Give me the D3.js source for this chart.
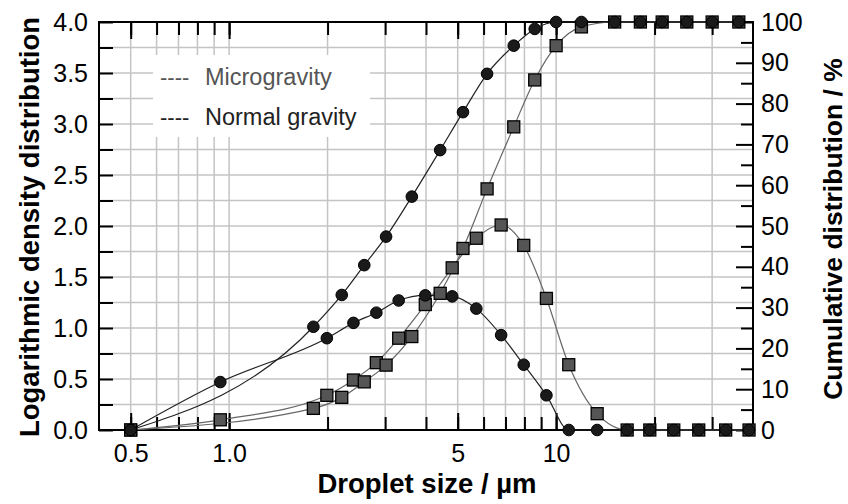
<!DOCTYPE html>
<html>
<head>
<meta charset="utf-8">
<script src="https://cdn.jsdelivr.net/npm/d3@7"></script>
<style>
  body { margin: 0; background: #fff; }
  svg text { font-family: "Liberation Sans", Arial, sans-serif; fill: #000; }
</style>
</head>
<body>
<div id="chart"></div>
<script>
// droplet sizes (µm) where the density was given (bin centres)
const densitySize = [0.5, 0.94, 1.99, 2.40, 2.82, 3.30, 3.98, 4.81, 5.70, 6.79, 7.96, 9.34, 10.93, 13.35, 16.49, 19.34, 22.9, 27.3, 33.0, 38.9];
const densityNormal = [0, 0.47, 0.90, 1.05, 1.15, 1.27, 1.32, 1.31, 1.19, 0.93, 0.64, 0.34, 0, 0, 0, 0, 0, 0, 0, 0];
const densityMicro = [0, 0.10, 0.34, 0.49, 0.66, 0.90, 1.23, 1.59, 1.88, 2.01, 1.81, 1.29, 0.64, 0.16, 0, 0, 0, 0, 0, 0];

// droplet sizes (µm) for the cumulative curves (upper bin edges)
const cumulSize = [0.5, 1.81, 2.21, 2.59, 3.02, 3.62, 4.42, 5.19, 6.15, 7.42, 8.60, 10.0, 11.95, 15.1, 18.1, 21.1, 25.1, 30.0, 36.2];
const cumulNormal = [0, 25.3, 33.1, 40.4, 47.4, 57.2, 68.6, 77.9, 87.3, 94.2, 98.3, 100, 100, 100, 100, 100, 100, 100, 100];
const cumulMicro = [0, 5.3, 8.0, 11.8, 15.9, 22.9, 33.5, 44.5, 59.1, 74.3, 85.8, 94.2, 98.8, 100, 100, 100, 100, 100, 100];

// axis ticks
const xLabelTicks = [0.5, 1.0, 5, 10];
const xLabelText = ["0.5", "1.0", "5", "10"];
const xMinorTicks = [0.5, 0.6, 0.7, 0.8, 0.9, 1, 2, 3, 4, 5, 6, 7, 8, 9, 10, 20, 30];
const yLeftTicks = [0, 0.5, 1.0, 1.5, 2.0, 2.5, 3.0, 3.5, 4.0];
const yLeftMinor = [0.25, 0.75, 1.25, 1.75, 2.25, 2.75, 3.25, 3.75];
const yRightTicks = [0, 10, 20, 30, 40, 50, 60, 70, 80, 90, 100];
const yRightMinor = [5, 15, 25, 35, 45, 55, 65, 75, 85, 95];

const legendItems = ["Microgravity", "Normal gravity"];

const W = 848, H = 504;
const m = { left: 99, right: 753, top: 22, bottom: 430 };

const svg = d3.select("#chart").append("svg")
    .attr("width", W)
    .attr("height", H);

const x = d3.scaleLog().domain([0.4, 40]).range([m.left, m.right]);
const y = d3.scaleLinear().domain([0, 4]).range([m.bottom, m.top]);
const yR = d3.scaleLinear().domain([0, 100]).range([m.bottom, m.top]);

// grid
const grid = svg.append("g").attr("stroke", "#c4c4c4").attr("stroke-width", 1.5);
grid.selectAll(".gx").data(xMinorTicks).join("line")
    .attr("x1", d => x(d)).attr("x2", d => x(d))
    .attr("y1", m.top).attr("y2", m.bottom);
grid.selectAll(".gy").data(yLeftTicks.concat(yLeftMinor)).join("line")
    .attr("x1", m.left).attr("x2", m.right)
    .attr("y1", d => y(d)).attr("y2", d => y(d));

// legend box (white, covers the grid)
const legend = svg.append("g");
legend.append("rect")
    .attr("x", 153).attr("y", 55).attr("width", 217).attr("height", 82)
    .attr("fill", "#fff");
legend.selectAll("text.dash").data(legendItems).join("text")
    .attr("class", "dash")
    .attr("x", 160).attr("y", (d, i) => 85 + i * 39.5)
    .style("font-size", "22px")
    .style("fill", (d, i) => i === 0 ? "#555" : "#222")
    .text("----");
legend.selectAll("text.lab").data(legendItems).join("text")
    .attr("class", "lab")
    .attr("x", 205).attr("y", (d, i) => 85 + i * 39.5)
    .style("font-size", "23.5px")
    .style("fill", (d, i) => i === 0 ? "#555" : "#222")
    .text(d => d);

// axes: ticks pointing inwards
function styleAxis(g) {
    g.select(".domain").remove();
    g.selectAll(".tick line").attr("stroke", "#000").attr("stroke-width", 2);
    g.selectAll(".tick text").style("font-size", "25px");
}

svg.append("g").attr("transform", `translate(0,${m.bottom})`)
    .call(d3.axisBottom(x).tickValues(xMinorTicks).tickSize(-13).tickFormat(""))
    .call(styleAxis);
svg.append("g").attr("transform", `translate(0,${m.bottom})`)
    .call(d3.axisBottom(x).tickValues(xLabelTicks).tickSize(-17).tickPadding(14)
        .tickFormat((d, i) => xLabelText[i]))
    .call(styleAxis);
svg.append("g").attr("transform", `translate(0,${m.top})`)
    .call(d3.axisTop(x).tickValues(xMinorTicks).tickSize(-13).tickFormat(""))
    .call(styleAxis);
svg.append("g").attr("transform", `translate(0,${m.top})`)
    .call(d3.axisTop(x).tickValues(xLabelTicks).tickSize(-17).tickFormat(""))
    .call(styleAxis);

svg.append("g").attr("transform", `translate(${m.left},0)`)
    .call(d3.axisLeft(y).tickValues(yLeftTicks).tickSize(-14).tickPadding(11)
        .tickFormat(d3.format(".1f")))
    .call(styleAxis);
svg.append("g").attr("transform", `translate(${m.left},0)`)
    .call(d3.axisLeft(y).tickValues(yLeftMinor).tickSize(-14).tickFormat(""))
    .call(styleAxis);

svg.append("g").attr("transform", `translate(${m.right},0)`)
    .call(d3.axisRight(yR).tickValues(yRightTicks).tickSize(-17).tickPadding(8))
    .call(styleAxis);
svg.append("g").attr("transform", `translate(${m.right},0)`)
    .call(d3.axisRight(yR).tickValues(yRightMinor).tickSize(-12).tickFormat(""))
    .call(styleAxis);

// frame
svg.append("rect")
    .attr("x", m.left).attr("y", m.top)
    .attr("width", m.right - m.left).attr("height", m.bottom - m.top)
    .attr("fill", "none").attr("stroke", "#000").attr("stroke-width", 2);

// curves
const series = [
    { xs: densitySize, ys: densityMicro, sc: y, stroke: "#666", kind: "sq" },
    { xs: cumulSize, ys: cumulMicro, sc: yR, stroke: "#666", kind: "sq" },
    { xs: densitySize, ys: densityNormal, sc: y, stroke: "#222", kind: "ci" },
    { xs: cumulSize, ys: cumulNormal, sc: yR, stroke: "#222", kind: "ci" }
];

series.forEach(s => {
    const pts = s.xs.map((d, i) => [d, s.ys[i]]);
    svg.append("path")
        .datum(pts)
        .attr("fill", "none")
        .attr("stroke", s.stroke)
        .attr("stroke-width", 1.2)
        .attr("d", d3.line()
            .curve(d3.curveMonotoneX)
            .x(d => x(d[0]))
            .y(d => s.sc(d[1])));
});

// markers: squares first, circles on top
series.filter(s => s.kind === "sq").forEach(s => {
    svg.append("g").selectAll("rect")
        .data(s.xs.map((d, i) => [d, s.ys[i]]))
        .join("rect")
        .attr("x", d => x(d[0]) - 6)
        .attr("y", d => s.sc(d[1]) - 6)
        .attr("width", 12).attr("height", 12)
        .attr("fill", "#555")
        .attr("stroke", "#000")
        .attr("stroke-width", 1.3);
});
series.filter(s => s.kind === "ci").forEach(s => {
    svg.append("g").selectAll("circle")
        .data(s.xs.map((d, i) => [d, s.ys[i]]))
        .join("circle")
        .attr("cx", d => x(d[0]))
        .attr("cy", d => s.sc(d[1]))
        .attr("r", 5.8)
        .attr("fill", "#1a1a1a")
        .attr("stroke", "#000")
        .attr("stroke-width", 1);
});

// axis titles
svg.append("text")
    .attr("x", (m.left + m.right) / 2 + 1)
    .attr("y", 493)
    .attr("text-anchor", "middle")
    .style("font-size", "27.5px").style("font-weight", "bold")
    .text("Droplet size / µm");

svg.append("text")
    .attr("transform", "translate(39,227) rotate(-90)")
    .attr("text-anchor", "middle")
    .style("font-size", "27.5px").style("font-weight", "bold")
    .text("Logarithmic density distribution");

svg.append("text")
    .attr("transform", "translate(842,229) rotate(-90)")
    .attr("text-anchor", "middle")
    .style("font-size", "26.5px").style("font-weight", "bold")
    .text("Cumulative distribution / %");
</script>
</body>
</html>
